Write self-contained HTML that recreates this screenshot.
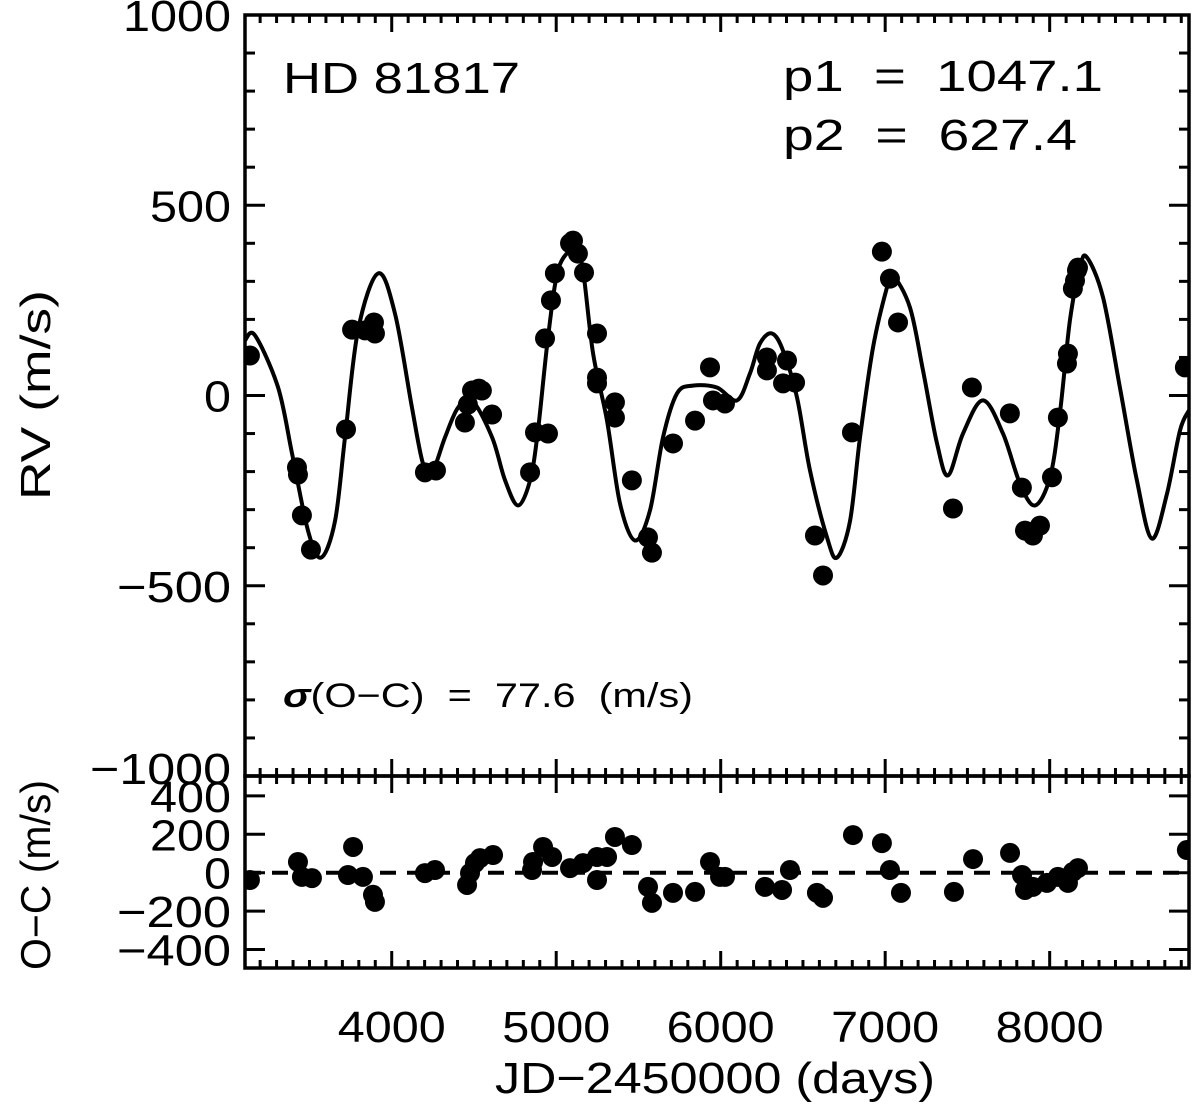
<!DOCTYPE html>
<html><head><meta charset="utf-8"><style>
body{margin:0;background:#fff}
svg{display:block;font-family:"Liberation Sans",sans-serif}
</style></head><body>
<svg id="c" width="1200" height="1112" viewBox="0 0 1200 1112">
<defs>
<clipPath id="clipTop"><rect x="245" y="15" width="944" height="761"/></clipPath>
<clipPath id="clipBot"><rect x="245" y="778" width="944" height="190"/></clipPath>
</defs>
<g id="gTop" clip-path="url(#clipTop)"></g>
<g id="gBot" clip-path="url(#clipBot)"></g>
<g id="axes"></g>
<text x="283" y="93" font-size="44" textLength="237" lengthAdjust="spacingAndGlyphs">HD 81817</text>
<text x="783" y="91" font-size="44" textLength="320" lengthAdjust="spacingAndGlyphs" xml:space="preserve">p1  =  1047.1</text>
<text x="783" y="150" font-size="44" textLength="294" lengthAdjust="spacingAndGlyphs" xml:space="preserve">p2  =  627.4</text>
<text x="283" y="707" font-size="34" textLength="410" lengthAdjust="spacingAndGlyphs" xml:space="preserve"><tspan font-style="italic" font-weight="bold">σ</tspan>(O−C)  =  77.6  (m/s)</text>
<text transform="translate(50,395) rotate(-90)" font-size="42" text-anchor="middle" textLength="210" lengthAdjust="spacingAndGlyphs">RV (m/s)</text>
<text transform="translate(50,875) rotate(-90)" font-size="42" text-anchor="middle" textLength="190" lengthAdjust="spacingAndGlyphs">O−C (m/s)</text>
<text x="715" y="1093" font-size="44" text-anchor="middle" textLength="440" lengthAdjust="spacingAndGlyphs">JD−2450000 (days)</text>
</svg>
<script>
const xTicks=[4000,5000,6000,7000,8000];
const rvTicks=[1000,500,0,-500,-1000];
const ocTicks=[400,200,0,-200,-400];
const curveJD=[3108,3169,3309,3394,3491,3570,3655,3716,3795,3917,4020,4123,4190,4245,4324,4403,4488,4610,4689,4768,4841,4889,4950,5011,5096,5114,5163,5224,5309,5388,5479,5570,5649,5734,5831,5977,6099,6178,6239,6312,6379,6464,6543,6646,6707,6786,6847,6926,7011,7047,7151,7230,7315,7382,7473,7594,7716,7819,7910,8002,8062,8123,8184,8226,8324,8427,8530,8621,8713,8792,8847];
const curveRV=[145,158,21,-152,-355,-426,-330,-110,171,321,215,-32,-179,-202,-110,-32,-13,-110,-223,-289,-223,-92,152,329,389,402,329,110,-66,-284,-381,-302,-110,5,26,21,-13,58,137,163,118,-5,-197,-373,-426,-330,-110,126,284,315,231,66,-126,-210,-100,-13,-100,-231,-289,-215,-47,197,336,363,258,21,-223,-376,-258,-92,-39];
const obsJD=[3138,3424,3430,3454,3509,3722,3759,3838,3892,3898,4202,4269,4445,4463,4488,4530,4548,4610,4841,4871,4950,4932,4968,4992,5084,5102,5132,5169,5248,5248,5248,5357,5357,5460,5558,5582,5710,5844,5935,5953,6026,6281,6281,6403,6379,6452,6573,6622,6798,6980,7029,7078,7527,7758,7412,7831,7850,7898,7941,8014,8050,8105,8111,8141,8154,8166,8172,8822];
const obsRV=[105,-189,-208,-315,-405,-89,173,171,192,163,-202,-197,-71,-24,13,18,13,-50,-202,-97,-100,150,250,321,400,407,373,323,163,47,32,-18,-58,-223,-373,-413,-126,-66,74,-13,-21,100,66,92,32,34,-368,-473,-97,378,307,192,21,-47,-297,-242,-355,-368,-342,-215,-58,84,110,281,302,329,336,74];
const resJD=[3138,3430,3454,3515,3765,3734,3825,3886,3898,4202,4263,4458,4476,4506,4537,4616,4853,4859,4920,4975,5084,5163,5248,5248,5309,5357,5460,5558,5582,5710,5844,5935,5996,6026,6269,6373,6421,6585,6622,6804,6980,7029,7096,7418,7534,7759,7832,7850,7898,7983,8050,8111,8141,8172,8834];
const resOC=[-38,56,-22,-28,134,-12,-22,-115,-152,-2,14,-64,-2,50,76,92,14,56,134,82,24,50,82,-38,82,186,144,-74,-157,-105,-100,56,-22,-22,-74,-90,14,-105,-131,196,154,14,-105,-100,71,103,-12,-90,-74,-53,-22,-53,4,24,118];

const NS='http://www.w3.org/2000/svg';
const X0=245,X1=1189,XMIN=3108,XMAX=8847;
const xs=v=>X0+(v-XMIN)/(XMAX-XMIN)*(X1-X0);
const TY0=15,TY1=776;
const ysTop=v=>TY0+(1000-v)/2000*(TY1-TY0);
const BY0=778,BY1=968;
const ysBot=v=>872.7-v*0.192;
function mk(tag,attrs,parent){const e=document.createElementNS(NS,tag);for(const k in attrs)e.setAttribute(k,attrs[k]);parent.appendChild(e);return e;}
const gTop=document.getElementById('gTop'),gBot=document.getElementById('gBot'),ax=document.getElementById('axes');

const P=curveJD.map((j,i)=>[xs(j),ysTop(curveRV[i])]);
let d='M'+P[0][0].toFixed(1)+','+P[0][1].toFixed(1);
for(let i=0;i<P.length-1;i++){const p0=P[Math.max(i-1,0)],p1=P[i],p2=P[i+1],p3=P[Math.min(i+2,P.length-1)];
const c1=[p1[0]+(p2[0]-p0[0])/6,p1[1]+(p2[1]-p0[1])/6],c2=[p2[0]-(p3[0]-p1[0])/6,p2[1]-(p3[1]-p1[1])/6];
d+=' C'+c1.map(v=>v.toFixed(1))+' '+c2.map(v=>v.toFixed(1))+' '+p2.map(v=>v.toFixed(1));}
const curve=mk('path',{d:d,fill:'none',stroke:'#000','stroke-width':4,'stroke-linejoin':'round'},gTop);



obsJD.forEach((j,i)=>{const c=mk('circle',{cx:xs(j),cy:ysTop(obsRV[i]),r:10,fill:'#000'},gTop);

});

const zl=mk('line',{x1:X0,x2:X1,y1:ysBot(0),y2:ysBot(0),stroke:'#000','stroke-width':4,'stroke-dasharray':'16,11'},gBot);


resJD.forEach((j,i)=>{const c=mk('circle',{cx:xs(j),cy:ysBot(resOC[i]),r:10,fill:'#000'},gBot);

});

const f1=mk('rect',{x:X0,y:TY0,width:X1-X0,height:TY1-TY0,fill:'none',stroke:'#000','stroke-width':3.5},ax);


const f2=mk('rect',{x:X0,y:TY1,width:X1-X0,height:BY1-TY1,fill:'none',stroke:'#000','stroke-width':3.5},ax);


const L=(x1,y1,x2,y2)=>mk('line',{x1,y1,x2,y2,stroke:'#000','stroke-width':3},ax);
const lab=v=>v<0?'−'+(-v):String(v);
const lw=v=>String(Math.abs(v)).length*27+(v<0?33:0);
for(let v=3200;v<=8800;v+=100){const x=xs(v),maj=v%1000===0,len=maj?17:8;
[TY0,TY1].forEach(y=>L(x,y,x,y+len));[TY1,BY1].forEach(y=>L(x,y,x,y-len));}
xTicks.forEach(v=>{const t=mk('text',{x:xs(v),y:1042,'font-size':44,'text-anchor':'middle',textLength:lw(v),lengthAdjust:'spacingAndGlyphs'},ax);t.textContent=lab(v);

});
for(let v=-900;v<=900;v+=100){const y=ysTop(v),len=v%500===0?20:10;L(X0,y,X0+len,y);L(X1,y,X1-len,y);}
rvTicks.forEach(v=>{const y=v===-1000?ysTop(v)-8:ysTop(v);
const t=mk('text',{x:231-lw(v),y:y+16,'font-size':44,textLength:lw(v),lengthAdjust:'spacingAndGlyphs'},ax);t.textContent=lab(v);

});
ocTicks.forEach(v=>{const y=ysBot(v);L(X0,y,X0+20,y);L(X1,y,X1-20,y);
const t=mk('text',{x:231-lw(v),y:y+16,'font-size':44,textLength:lw(v),lengthAdjust:'spacingAndGlyphs'},ax);t.textContent=lab(v);

});
</script>
</body></html>
